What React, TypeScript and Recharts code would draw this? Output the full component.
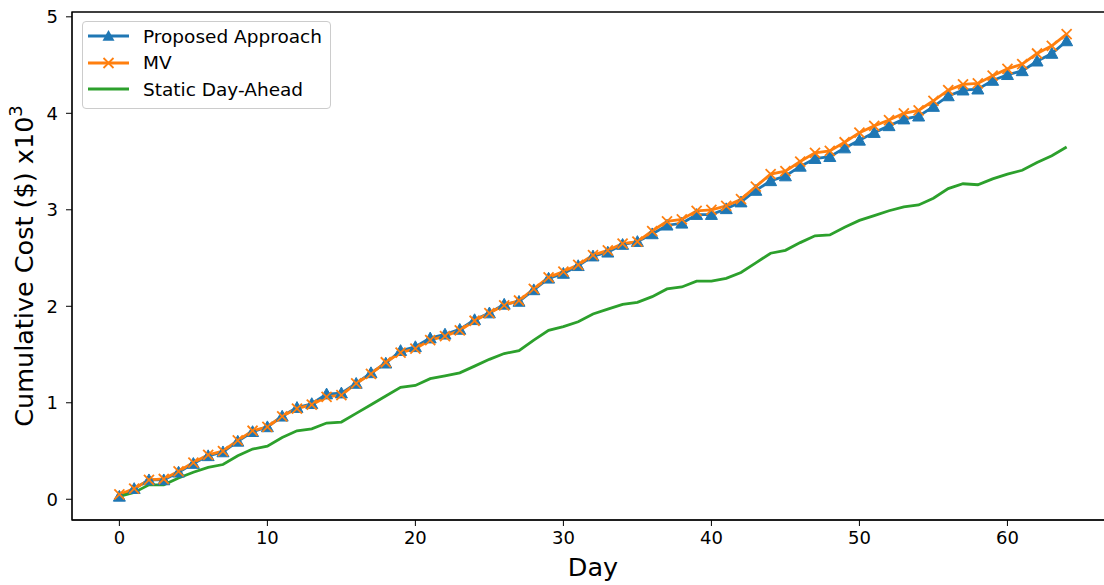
import React from "react";
import { LineChart, Line, XAxis, YAxis, ReferenceArea } from "recharts";

const days: number[] = Array.from({ length: 65 }, (_, i) => i);
const proposed: number[] = [
  0.03, 0.11, 0.2, 0.2, 0.28, 0.37, 0.45, 0.49, 0.6, 0.7, 0.75, 0.86, 0.95,
  0.99, 1.09, 1.1, 1.2, 1.31, 1.41, 1.54, 1.58, 1.67, 1.71, 1.76, 1.86, 1.93,
  2.02, 2.05, 2.17, 2.29, 2.34, 2.42, 2.52, 2.56, 2.64, 2.67, 2.75, 2.84, 2.86,
  2.95, 2.95, 3.01, 3.08, 3.2, 3.3, 3.35, 3.45, 3.53, 3.55, 3.64, 3.72, 3.8,
  3.87, 3.94, 3.97, 4.07, 4.18, 4.24, 4.25, 4.34, 4.4, 4.44, 4.54, 4.62, 4.75,
];
const mv: number[] = [
  0.05, 0.11, 0.2, 0.21, 0.29, 0.38, 0.46, 0.5, 0.61, 0.71, 0.75, 0.86, 0.94,
  0.98, 1.06, 1.08, 1.2, 1.3, 1.42, 1.52, 1.56, 1.65, 1.69, 1.75, 1.85, 1.93,
  2.01, 2.06, 2.18, 2.3, 2.36, 2.43, 2.53, 2.58, 2.65, 2.67, 2.78, 2.88, 2.9,
  2.99, 3.0, 3.04, 3.11, 3.24, 3.37, 3.4, 3.5, 3.59, 3.61, 3.7, 3.8, 3.87,
  3.93, 4.0, 4.03, 4.13, 4.24, 4.3, 4.31, 4.39, 4.46, 4.51, 4.62, 4.7, 4.82,
];
const staticDA: number[] = [
  0.03, 0.07, 0.15, 0.15, 0.22, 0.28, 0.33, 0.36, 0.45, 0.52, 0.55, 0.64, 0.71,
  0.73, 0.79, 0.8, 0.89, 0.98, 1.07, 1.16, 1.18, 1.25, 1.28, 1.31, 1.38, 1.45,
  1.51, 1.54, 1.65, 1.75, 1.79, 1.84, 1.92, 1.97, 2.02, 2.04, 2.1, 2.18, 2.2,
  2.26, 2.26, 2.29, 2.35, 2.45, 2.55, 2.58, 2.66, 2.73, 2.74, 2.82, 2.89, 2.94,
  2.99, 3.03, 3.05, 3.12, 3.22, 3.27, 3.26, 3.32, 3.37, 3.41, 3.49, 3.56, 3.65,
];
const xTicks: number[] = [0, 10, 20, 30, 40, 50, 60];
const yTicks: number[] = [0, 1, 2, 3, 4, 5];
const seriesNames: string[] = ["Proposed Approach", "MV", "Static Day-Ahead"];

const X_DOMAIN: [number, number] = [-3.2, 67.2];
const Y_DOMAIN: [number, number] = [-0.215, 5.05];

const BLUE = "#1f77b4";
const ORANGE = "#ff7f0e";
const GREEN = "#2ca02c";
const FONT = "DejaVu Sans, sans-serif";

const data = days.map((d, i) => ({
  day: d,
  proposed: proposed[i],
  mv: mv[i],
  staticDA: staticDA[i],
}));

const Triangle = (props: any) => {
  const { cx, cy } = props;
  if (cx == null || cy == null) return null;
  const s = 6;
  return (
    <polygon
      points={`${cx},${cy - s} ${cx - s},${cy + s * 0.8} ${cx + s},${cy + s * 0.8}`}
      fill={BLUE}
      stroke={BLUE}
      strokeWidth={1}
    />
  );
};

const Cross = (props: any) => {
  const { cx, cy } = props;
  if (cx == null || cy == null) return null;
  const s = 5;
  return (
    <g stroke={ORANGE} strokeWidth={1.8}>
      <line x1={cx - s} y1={cy - s} x2={cx + s} y2={cy + s} />
      <line x1={cx - s} y1={cy + s} x2={cx + s} y2={cy - s} />
    </g>
  );
};

const LegendBox = () => {
  const rowStyle: React.CSSProperties = {
    display: "flex",
    alignItems: "center",
    height: 26.5,
  };
  const txt: React.CSSProperties = {
    fontFamily: FONT,
    fontSize: 18.5,
    color: "#000",
    marginLeft: 14,
    whiteSpace: "nowrap",
  };
  return (
    <div
      style={{
        position: "absolute",
        left: 82,
        top: 21,
        boxSizing: "border-box",
        width: 249,
        height: 88,
        border: "1px solid #cccccc",
        borderRadius: 4,
        background: "rgba(255,255,255,0.8)",
        padding: "1px 5px 3px 5px",
      }}
    >
      <div style={rowStyle}>
        <svg width={41} height={14}>
          <line x1={0} y1={7} x2={41} y2={7} stroke={BLUE} strokeWidth={2.8} />
          <polygon points="20.5,1 14.5,11.8 26.5,11.8" fill={BLUE} />
        </svg>
        <span style={txt}>{seriesNames[0]}</span>
      </div>
      <div style={rowStyle}>
        <svg width={41} height={14}>
          <line x1={0} y1={7} x2={41} y2={7} stroke={ORANGE} strokeWidth={2.8} />
          <g stroke={ORANGE} strokeWidth={1.8}>
            <line x1={15.5} y1={2} x2={25.5} y2={12} />
            <line x1={15.5} y1={12} x2={25.5} y2={2} />
          </g>
        </svg>
        <span style={txt}>{seriesNames[1]}</span>
      </div>
      <div style={rowStyle}>
        <svg width={41} height={14}>
          <line x1={0} y1={7} x2={41} y2={7} stroke={GREEN} strokeWidth={2.8} />
        </svg>
        <span style={txt}>{seriesNames[2]}</span>
      </div>
    </div>
  );
};

const YLabel = (props: any) => {
  const vb = props.viewBox || {};
  const y = (vb.y ?? 12) + (vb.height ?? 508) / 2;
  const x = 33;
  return (
    <text
      x={x}
      y={y}
      transform={`rotate(-90, ${x}, ${y})`}
      textAnchor="middle"
      fontFamily={FONT}
      fontSize={25.5}
      fill="#000"
    >
      Cumulative Cost ($) x10
      <tspan dy={-11} fontSize={18}>
        3
      </tspan>
    </text>
  );
};

export default function App() {
  const tickStyle = { fontFamily: FONT, fontSize: 18, fill: "#000" };
  return (
    <div
      style={{
        position: "absolute",
        left: 0,
        top: 0,
        width: 1104,
        height: 585,
        overflow: "hidden",
        background: "#fff",
      }}
    >
      <LineChart
        width={1116}
        height={585}
        data={data}
        margin={{ top: 12, right: 2, left: 0, bottom: 0 }}
      >
        <XAxis
          dataKey="day"
          type="number"
          domain={X_DOMAIN}
          ticks={xTicks}
          allowDataOverflow
          height={65}
          tickSize={6}
          tickMargin={5}
          stroke="#000"
          tick={tickStyle}
          tickLine={{ stroke: "#000" }}
          axisLine={{ stroke: "#000" }}
          label={{
            value: "Day",
            position: "insideBottom",
            offset: 0,
            dy: -9,
            style: { fontFamily: FONT, fontSize: 25.5, fill: "#000" },
          }}
        />
        <YAxis
          type="number"
          domain={Y_DOMAIN}
          ticks={yTicks}
          allowDataOverflow
          width={72}
          tickSize={6}
          tickMargin={8}
          stroke="#000"
          tick={tickStyle}
          tickLine={{ stroke: "#000" }}
          axisLine={{ stroke: "#000" }}
          label={<YLabel />}
        />
        <ReferenceArea
          x1={X_DOMAIN[0]}
          x2={X_DOMAIN[1]}
          y1={Y_DOMAIN[0]}
          y2={Y_DOMAIN[1]}
          fill="none"
          fillOpacity={0}
          stroke="#000"
          strokeWidth={1.3}
          ifOverflow="visible"
        />
        <Line
          dataKey="proposed"
          stroke={BLUE}
          strokeWidth={2.8}
          dot={<Triangle />}
          activeDot={false}
          isAnimationActive={false}
        />
        <Line
          dataKey="mv"
          stroke={ORANGE}
          strokeWidth={2.8}
          dot={<Cross />}
          activeDot={false}
          isAnimationActive={false}
        />
        <Line
          dataKey="staticDA"
          stroke={GREEN}
          strokeWidth={2.8}
          dot={false}
          activeDot={false}
          isAnimationActive={false}
        />
      </LineChart>
      <LegendBox />
    </div>
  );
}
